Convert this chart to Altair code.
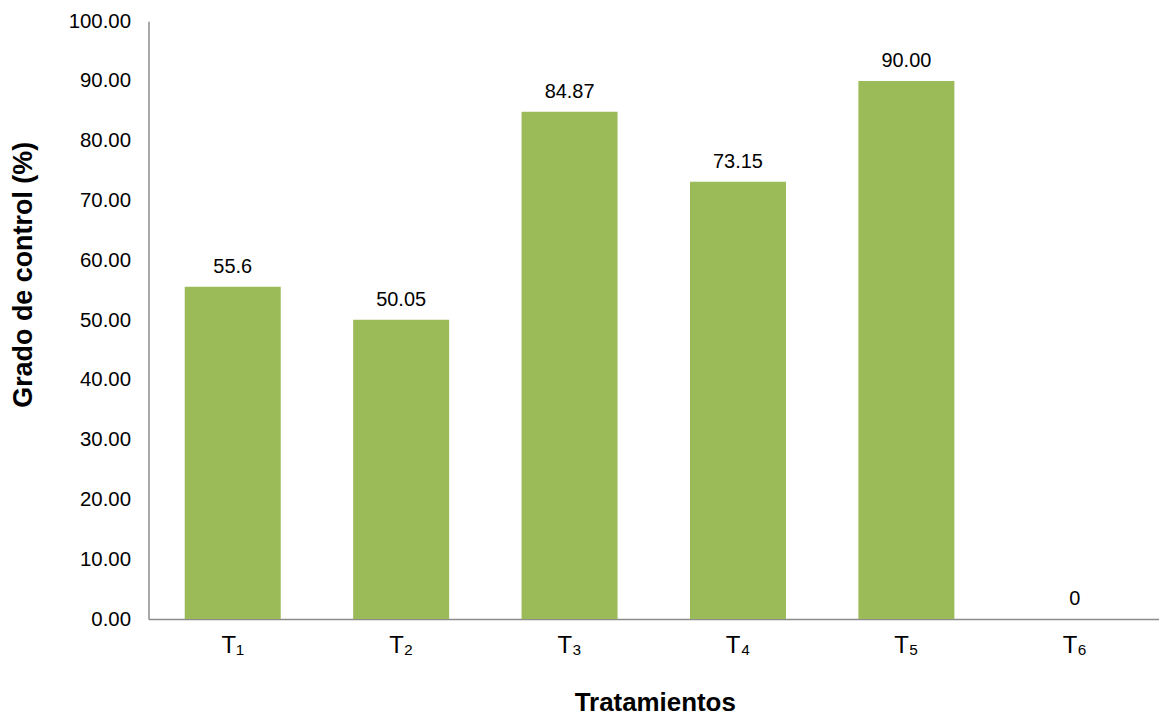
import altair as alt
import pandas as pd

tratamientos = ["T₁", "T₂", "T₃", "T₄", "T₅", "T₆"]
valores = [55.6, 50.05, 84.87, 73.15, 90.00, 0.0]
etiquetas = ["55.6", "50.05", "84.87", "73.15", "90.00", "0"]

df = pd.DataFrame({"trat": tratamientos, "valor": valores, "etiqueta": etiquetas})

FONT = "Liberation Sans, Arial, DejaVu Sans"

x = alt.X(
    "trat:N",
    sort=None,
    scale=alt.Scale(paddingInner=0.43, paddingOuter=0.215),
    axis=alt.Axis(
        title="Tratamientos",
        labelAngle=0,
        labelFont="Liberation Sans, DejaVu Sans",
        labelFontSize=24,
        labelColor="#000000",
        labelPadding=15,
        ticks=False,
        grid=False,
        domainColor="#8c8c8c",
        domainWidth=1.5,
        titleFont=FONT,
        titleFontSize=26,
        titleFontWeight="bold",
        titleColor="#000000",
        titleX=508,
        titleY=84,
        titleBaseline="middle",
        titleAlign="center",
    ),
)

y = alt.Y(
    "valor:Q",
    scale=alt.Scale(domain=[0, 100], nice=False),
    axis=alt.Axis(
        title="Grado de control (%)",
        values=list(range(0, 101, 10)),
        format=".2f",
        labelFont=FONT,
        labelFontSize=20.5,
        labelColor="#000000",
        labelPadding=18,
        ticks=False,
        grid=False,
        domainColor="#8c8c8c",
        domainWidth=1.5,
        titleFont=FONT,
        titleFontSize=27,
        titleFontWeight="bold",
        titleColor="#000000",
        titleAngle=-90,
        titleX=-125,
        titleY=254,
        titleAlign="center",
        titleBaseline="middle",
    ),
)

base = alt.Chart(df).encode(x=x, y=y)

bars = base.mark_bar(color="#9BBB59")

labels = base.mark_text(
    font=FONT, fontSize=20, color="#000000", baseline="alphabetic", dy=-14
).encode(text="etiqueta:N")

chart = (
    alt.layer(bars, labels)
    .properties(
        width=1014,
        height=600,
        autosize=alt.AutoSizeParams(type="none"),
        padding={"left": 141, "top": 12, "right": 0, "bottom": 99},
        background="#ffffff",
    )
    .configure_view(stroke="transparent", strokeWidth=0)
    .configure_axis(grid=False)
)

chart.save("out.html", embed_options={"renderer": "svg", "actions": False})
